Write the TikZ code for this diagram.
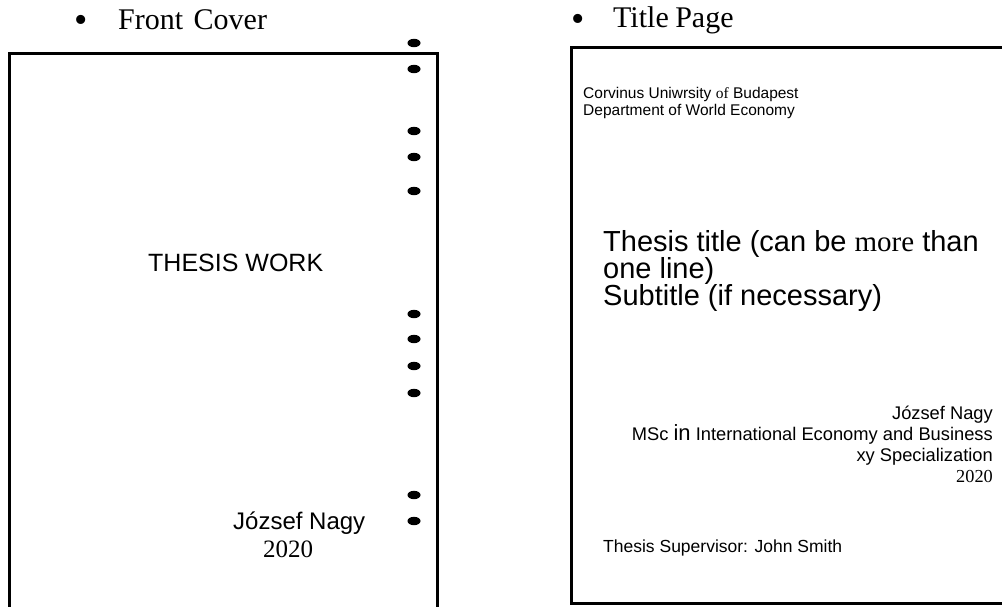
\documentclass[tikz,border=0pt]{standalone}
\usepackage{fontspec}
\setmainfont{Liberation Serif}
\setsansfont{Liberation Sans}
\begin{document}
\begin{tikzpicture}[x=1pt,y=-1pt,
  frame/.style={line width=3pt},
  dot/.style={fill=black,draw=none},
  txt/.style={inner sep=0pt,anchor=base west},
  txtr/.style={inner sep=0pt,anchor=base east},
  hdr/.style={txt,font=\fontsize{30}{33}\selectfont},
  bul/.style={txt,font=\fontsize{38}{40}\selectfont},
  big/.style={txt,font=\sffamily\fontsize{29}{33}\selectfont},
  small/.style={txt,font=\sffamily\fontsize{15.5}{17}\selectfont},
  mid/.style={txtr,font=\sffamily\fontsize{18.3}{21}\selectfont}]
\useasboundingbox (0,0) rectangle (1002,606);
% headers
\node[bul] (b1) at (74,32) {•};
\node[hdr] (h1) at (118,29) {Front\hspace{3pt} Cover};
\node[bul] (b2) at (571,31) {•};
\node[hdr] (h2) at (613,27) {Title\hspace{-1pt} Page};
% front cover frame
\draw[frame] (9,607) -- (9,53) -- (437,53) -- (437,607);
% side dots
\foreach \yy in {43,69,131,157,191,314,339,366,393,495,521}
  \fill[dot] (414,\yy) ellipse [x radius=6.5pt, y radius=4.2pt];
\node[txt,font=\sffamily\fontsize{25}{29}\selectfont] (tw) at (148,271) {THESIS WORK};
\node[txt,font=\sffamily\fontsize{24}{28}\selectfont] (fn) at (233,529) {József Nagy};
\node[txt,font=\fontsize{25}{29}\selectfont] (fy) at (263,557) {2020};
% title page frame
\draw[frame] (1006,47) -- (571,47) -- (571,603) -- (1006,603);
\node[small] (uni1) at (583,98) {Corvinus Uniwrsity {\rmfamily of} Budapest};
\node[small] (uni2) at (583,115) {Department of World Economy};
\node[big] (tt1) at (603,251) {Thesis title (can be {\rmfamily more} than};
\node[big] (tt2) at (603,278) {one line)};
\node[big] (tt3) at (603,305) {Subtitle (if necessary)};
\node[mid] (a1) at (993,419) {József Nagy};
\node[mid] (a2) at (993,440) {MSc {\fontsize{22}{21}\selectfont in} International Economy and Business};
\node[mid] (a3) at (993,461) {xy Specialization};
\node[txtr,font=\fontsize{18.3}{21}\selectfont] (a4) at (993,482) {2020};
\node[txt,font=\sffamily\fontsize{17.5}{21}\selectfont] (sup) at (603,552)
  {Thesis Supervisor: John Smith};
\end{tikzpicture}
\end{document}
